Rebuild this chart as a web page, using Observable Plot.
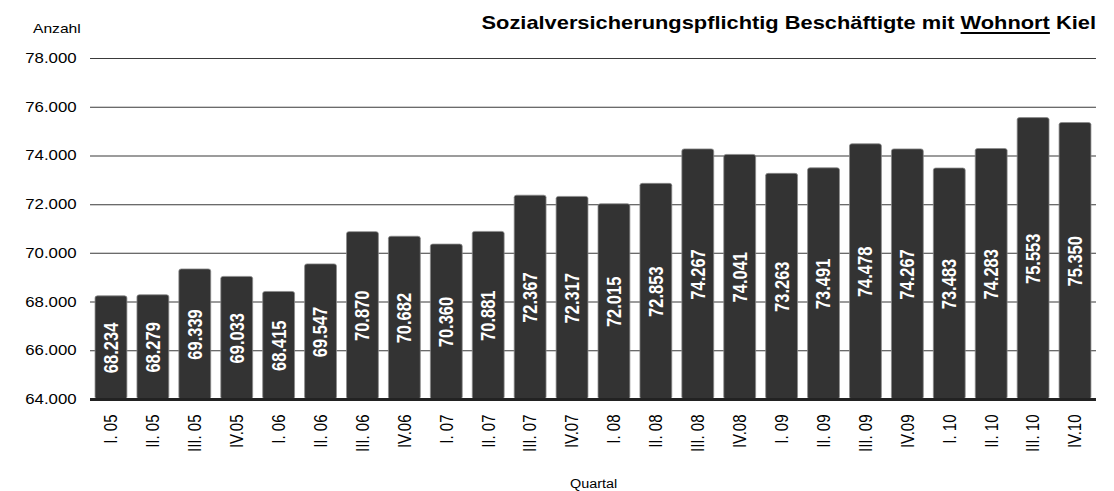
<!DOCTYPE html>
<html>
<head>
<meta charset="utf-8">
<script src="https://cdn.jsdelivr.net/npm/d3@7"></script>
<script src="https://cdn.jsdelivr.net/npm/@observablehq/plot@0.6"></script>
<style>
  html, body { margin: 0; padding: 0; background: #fff; overflow: hidden; }
  body { font-family: "Liberation Sans", Arial, sans-serif; }
  #wrap { position: relative; width: 928.33px; height: 491px; transform: scaleX(1.2); transform-origin: 0 0; }
  #title { position: absolute; right: 15px; top: 13px; font-size: 18.2px; font-weight: bold; line-height: 20px; white-space: nowrap; color: #000; }
  #title u { text-decoration-thickness: 2px; text-underline-offset: 3px; }
  #ylab { position: absolute; left: 27.5px; top: 21px; font-size: 13px; line-height: 16px; color: #000; }
  #xlab { position: absolute; left: 475px; top: 477px; font-size: 12px; line-height: 14px; color: #000; }
  svg text { font-family: "Liberation Sans", Arial, sans-serif; }
</style>
</head>
<body>
<div id="wrap">
  <div id="chart"></div>
  <div id="title">Sozialversicherungspflichtig Beschäftigte mit <u>Wohnort</u> Kiel</div>
  <div id="ylab">Anzahl</div>
  <div id="xlab">Quartal</div>
</div>
<script>
const quarters = ["I. 05","II. 05","III. 05","IV.05","I. 06","II. 06","III. 06","IV.06",
  "I. 07","II. 07","III. 07","IV.07","I. 08","II. 08","III. 08","IV.08",
  "I. 09","II. 09","III. 09","IV.09","I. 10","II. 10","III. 10","IV.10"];
const values = [68234,68279,69339,69033,68415,69547,70870,70682,
  70360,70881,72367,72317,72015,72853,74267,74041,
  73263,73491,74478,74267,73483,74283,75553,75350];
const yTicks = [64000,66000,68000,70000,72000,74000,76000,78000];
const yMin = 64000, yMax = 78000;

const loc = d3.formatLocale({decimal: ",", thousands: ".", grouping: [3], currency: ["", " €"]});
const fmt = loc.format(",d");

const data = quarters.map((q, i) => ({q, v: values[i]}));

const chart = Plot.plot({
  width: 928.33,
  height: 491,
  marginLeft: 75,
  marginRight: 15,
  marginTop: 58,
  marginBottom: 92,
  style: {fontFamily: "'Liberation Sans', Arial, sans-serif", background: "#fff", color: "#000", overflow: "visible"},
  x: {domain: quarters, paddingInner: 0.24, paddingOuter: 0.12, round: false, label: null},
  y: {domain: [yMin, yMax], label: null},
  marks: [
    Plot.ruleY(yTicks.filter(t => t > yMin), {stroke: "#3a3a3a", strokeWidth: 1}),
    Plot.axisY({ticks: yTicks, tickFormat: fmt, tickSize: 0, tickPadding: 11.7, fontSize: 14, label: null}),
    Plot.axisX({tickRotate: -90, tickSize: 0, tickPadding: 15, fontSize: 15, label: null}),
    Plot.barY(data, {x: "q", y1: yMin, y2: "v", fill: "#333333", stroke: "#8a8a8a", strokeWidth: 0.7, rx: 2}),
    Plot.ruleY([yMin], {stroke: "#222", strokeWidth: 3}),
    Plot.text(data, {x: "q", y: d => (yMin + d.v) / 2, text: d => fmt(d.v), rotate: -90, fill: "#fff", fontWeight: "bold", fontSize: 16.5})
  ]
});
document.getElementById("chart").appendChild(chart);
</script>
</body>
</html>
